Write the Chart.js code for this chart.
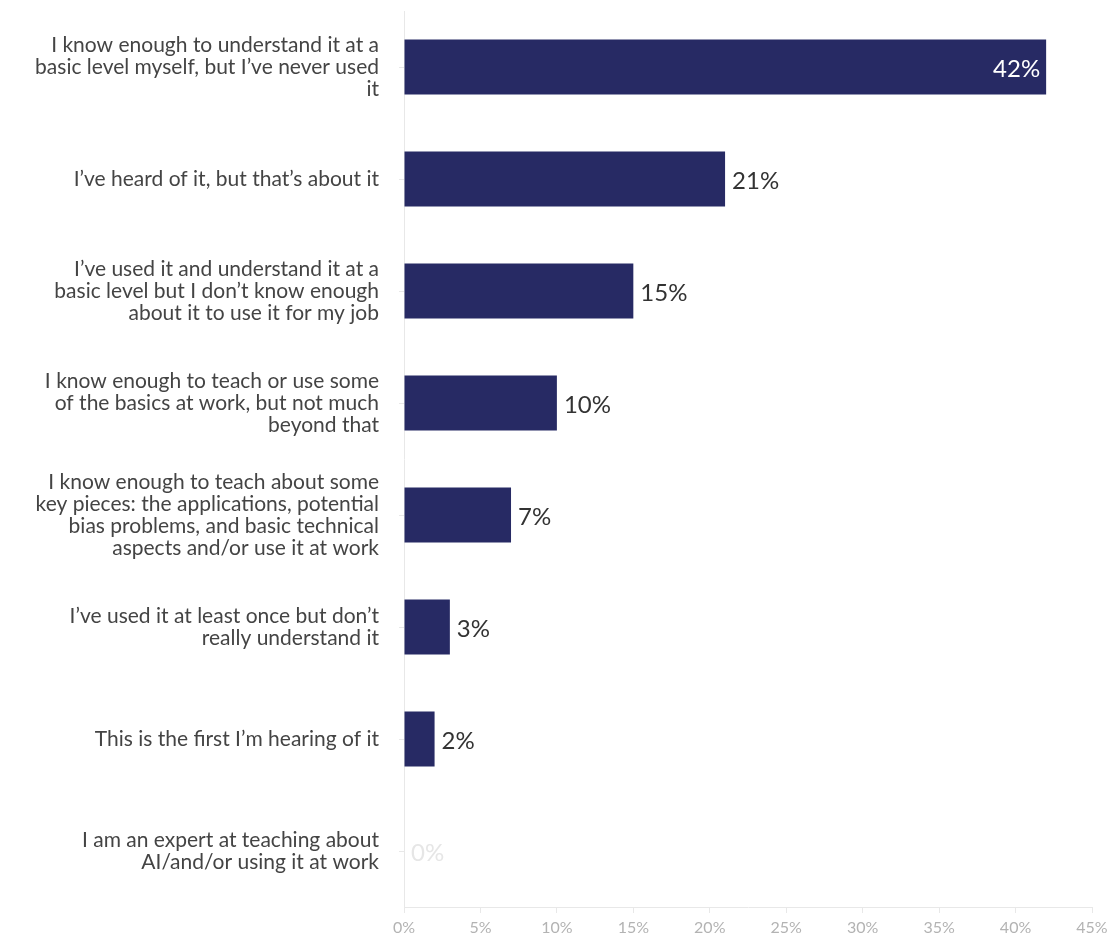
<!DOCTYPE html>
<html>
<head>
<meta charset="utf-8">
<script src="https://cdn.jsdelivr.net/npm/chart.js@4"></script>
<style>
  html, body { margin: 0; padding: 0; background: #fff; }
  #wrap { width: 1116px; height: 938px; }
</style>
</head>
<body>
<div id="wrap"><canvas id="awarenessChart" width="1116" height="938"></canvas></div>
<script>
// Survey answers, top to bottom
const answers = [
    ['I know enough to understand it at a', 'basic level myself, but I\u2019ve never used', 'it'],
    'I\u2019ve heard of it, but that\u2019s about it',
    ['I\u2019ve used it and understand it at a', 'basic level but I don\u2019t know enough', 'about it to use it for my job'],
    ['I know enough to teach or use some', 'of the basics at work, but not much', 'beyond that'],
    ['I know enough to teach about some', 'key pieces: the applications, potential', 'bias problems, and basic technical', 'aspects and/or use it at work'],
    ['I\u2019ve used it at least once but don\u2019t', 'really understand it'],
    'This is the first I\u2019m hearing of it',
    ['I am an expert at teaching about', 'AI/and/or using it at work']
];
const shares = [42, 21, 15, 10, 7, 3, 2, 0];
const xTicks = [0, 5, 10, 15, 20, 25, 30, 35, 40, 45];

const FONT = 'Lato, "Open Sans", sans-serif';

// Draws the % value next to (or inside) each bar
const valueLabels = {
    id: 'valueLabels',
    afterDatasetsDraw(chart) {
        const { ctx } = chart;
        const meta = chart.getDatasetMeta(0);
        ctx.save();
        ctx.font = '24px ' + FONT;
        ctx.textBaseline = 'middle';
        meta.data.forEach((bar, i) => {
            const v = shares[i];
            const txt = v + '%';
            if (v >= 40) {
                ctx.fillStyle = '#ffffff';
                ctx.textAlign = 'right';
                ctx.fillText(txt, bar.x - 6, bar.y + 2);
            } else {
                ctx.fillStyle = v === 0 ? '#e6e6e6' : '#333333';
                ctx.textAlign = 'left';
                ctx.fillText(txt, bar.x + 7, bar.y + 2);
            }
        });
        ctx.restore();
    }
};

new Chart(document.getElementById('awarenessChart'), {
    type: 'bar',
    data: {
        labels: answers,
        datasets: [{
            data: shares,
            backgroundColor: '#272a64',
            borderWidth: 0,
            categoryPercentage: 1,
            barPercentage: 0.49
        }]
    },
    options: {
        indexAxis: 'y',
        responsive: false,
        animation: false,
        layout: { padding: { top: 11, right: 24, left: 0, bottom: 0 } },
        scales: {
            x: {
                min: 0,
                max: 45,
                afterBuildTicks(scale) {
                    scale.ticks = xTicks.map(v => ({ value: v }));
                },
                afterFit(scale) { scale.height = 31; },
                border: { color: '#e8e8e8' },
                grid: { drawOnChartArea: false, color: '#e8e8e8', tickLength: 6 },
                ticks: {
                    color: '#b3b3b3',
                    font: { family: FONT, size: 16 },
                    padding: 5,
                    callback: v => v + '%'
                }
            },
            y: {
                afterFit(scale) {
                    scale.width = 404;
                    // don't let multi-line edge labels push the plot area in
                    scale.paddingTop = 0;
                    scale.paddingBottom = 0;
                },
                border: { color: '#e8e8e8' },
                grid: { drawOnChartArea: false, offset: false, color: '#e8e8e8', tickLength: 5 },
                ticks: {
                    color: '#444444',
                    font: { family: FONT, size: 21, lineHeight: 1.05 },
                    padding: 20
                }
            }
        },
        plugins: {
            legend: { display: false },
            tooltip: { enabled: false }
        }
    },
    plugins: [valueLabels]
});
</script>
</body>
</html>
